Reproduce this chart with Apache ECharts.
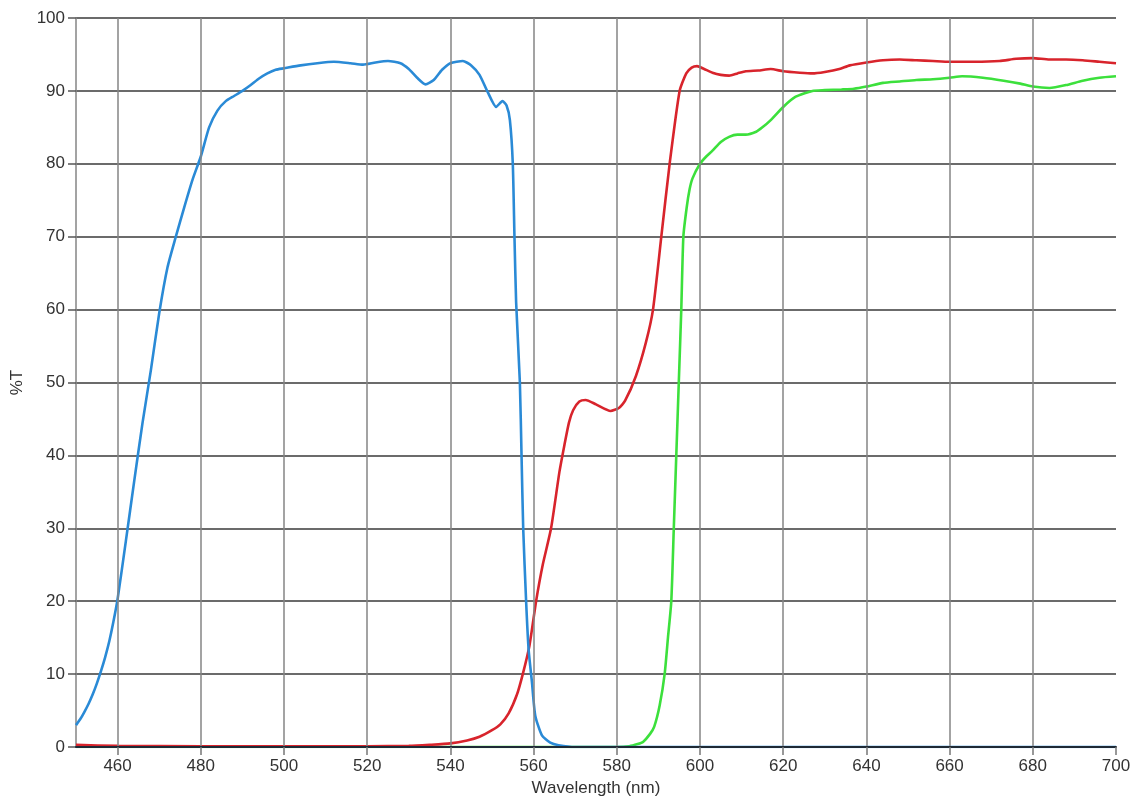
<!DOCTYPE html>
<html>
<head>
<meta charset="utf-8">
<script src="https://cdn.jsdelivr.net/npm/echarts@6/dist/echarts.min.js"></script>
<style>
  html, body { margin: 0; padding: 0; background: #fff; }
  #chart { width: 1135px; height: 798px; }
</style>
</head>
<body>
<div id="chart"></div>
<script>
// [wavelength nm, %T]
const blueT = [
  [450, 3.0], [451, 3.8], [452, 4.8], [453, 5.9], [454, 7.2], [455, 8.7], [456, 10.4],
  [457, 12.3], [458, 14.5], [459, 17.2], [460, 20.3], [462, 28.3],
  [464, 36.5], [466, 44.5], [468, 51.7], [470, 59.5], [472, 65.8], [474, 70], [476, 74],
  [478, 77.8], [480, 81], [482, 85], [484, 87.3], [486, 88.6], [488, 89.3], [490, 90],
  [492, 90.8], [494, 91.7], [496, 92.4], [498, 92.9], [500, 93.1], [504, 93.5], [508, 93.8],
  [512, 94.0], [516, 93.8], [519, 93.6], [522, 93.9], [525, 94.1], [528, 93.8], [530, 93.0],
  [532, 91.8], [534, 90.9], [536, 91.5], [538, 92.9], [540, 93.8], [543, 94.1], [545, 93.5],
  [547, 92.2], [549, 89.8], [551, 87.8], [552.5, 88.6], [553.5, 88.0], [554.3, 86], [555, 80],
  [555.4, 70], [555.8, 61], [556.7, 50], [557.1, 40], [557.5, 30], [558.2, 20], [558.8, 13.4],
  [559.6, 8.9], [560.4, 4.3], [562, 1.6], [564, 0.6], [566, 0.25], [570, 0], [700, 0]
];

const redT = [
  [450, 0.3], [460, 0.15], [480, 0.1], [500, 0.1], [520, 0.1], [530, 0.15], [535, 0.3],
  [540, 0.5], [544, 0.9], [547, 1.4], [550, 2.3], [552, 3.1], [554, 4.6], [556, 7.2],
  [557.4, 10], [559, 13.9], [560.6, 20], [562.2, 25], [564.2, 30], [566.2, 37.7], [567.4, 41.4],
  [568.5, 44.5], [569.5, 46.2], [571, 47.4], [572.5, 47.6], [575, 47], [578.5, 46.1],
  [580.5, 46.5], [582, 47.5], [584.6, 50.9], [587, 55.5], [588.7, 60], [590.7, 70], [592.7, 80],
  [595.1, 90], [596.7, 92.4], [598, 93.2], [599.3, 93.4], [601, 93], [603, 92.5], [605, 92.2],
  [607, 92.1], [609, 92.4], [611, 92.7], [614, 92.8], [617, 93], [620, 92.7], [624, 92.5],
  [627, 92.4], [630, 92.6], [633.5, 93], [636, 93.5], [640, 93.9], [644, 94.2], [648, 94.3],
  [652, 94.2], [656, 94.1], [660, 94], [666, 94], [672, 94.1], [676, 94.4], [680, 94.5],
  [684, 94.3], [688, 94.3], [692, 94.2], [696, 94], [700, 93.8]
];

const greenT = [
  [450, 0], [580, 0], [583, 0.1], [585, 0.4], [586.3, 0.7], [588, 1.8], [589, 2.8],
  [590.3, 5.7], [591.5, 10], [592.3, 15], [593.1, 20], [593.7, 30], [594.3, 40], [594.9, 50],
  [595.5, 60], [596, 70], [596.8, 74], [597.5, 76.5], [598.2, 78], [600, 80], [601.5, 81],
  [603, 81.8], [605, 83], [607, 83.7], [609, 84], [611, 84], [613.5, 84.4], [615, 85],
  [617, 86], [620, 87.8], [623, 89.2], [627, 90], [630, 90.1], [634, 90.2], [637, 90.3],
  [640, 90.6], [644, 91.1], [648, 91.3], [652, 91.5], [656, 91.6], [660, 91.8], [663, 92],
  [668, 91.8], [673, 91.4], [677, 91], [680, 90.6], [684, 90.4], [688, 90.8], [692, 91.4],
  [696, 91.8], [700, 92]
];

const xTicks = [460, 480, 500, 520, 540, 560, 580, 600, 620, 640, 660, 680, 700];

const font = 'Liberation Sans, Arial, sans-serif';
const chart = echarts.init(document.getElementById('chart'), null, { renderer: 'canvas' });

function line(data, color) {
  return {
    type: 'line',
    data,
    smooth: 0.2,
    showSymbol: false,
    symbol: 'none',
    lineStyle: { color, width: 2.6 },
    z: 2,
  };
}

chart.setOption({
  backgroundColor: '#fff',
  animation: false,
  grid: { left: 76, right: 19, top: 18, bottom: 51, outerBoundsMode: 'none' },
  xAxis: {
    type: 'value',
    min: 450,
    max: 700,
    interval: 10,
    z: 5,
    name: 'Wavelength (nm)',
    nameLocation: 'middle',
    nameGap: 28,
    nameTextStyle: { fontFamily: font, fontSize: 17, color: '#333' },
    axisLine: { show: true, lineStyle: { color: '#1e2a36', width: 2 } },
    axisTick: { show: true, customValues: xTicks, length: 8, lineStyle: { color: '#777', width: 1.5 } },
    axisLabel: { customValues: xTicks, margin: 11, fontFamily: font, fontSize: 17, color: '#333' },
    splitLine: {
      show: true,
      showMaxLine: false,
      lineStyle: { color: '#858585', width: 1.5 },
    },
  },
  yAxis: {
    type: 'value',
    min: 0,
    max: 100,
    interval: 10,
    name: '%T',
    nameLocation: 'middle',
    nameGap: 48,
    nameTextStyle: { fontFamily: font, fontSize: 17, color: '#333' },
    axisLine: { show: true, lineStyle: { color: '#858585', width: 1.5 } },
    axisTick: { show: true, length: 8, lineStyle: { color: '#555', width: 1.5 } },
    axisLabel: { margin: 11, fontFamily: font, fontSize: 17, color: '#333' },
    splitLine: { show: true, lineStyle: { color: '#3a3a3a', width: 1.5 } },
  },
  series: [
    line(greenT, '#3ce03c'),
    line(redT, '#d8242c'),
    line(blueT, '#2a8ad6'),
  ],
});
</script>
</body>
</html>
